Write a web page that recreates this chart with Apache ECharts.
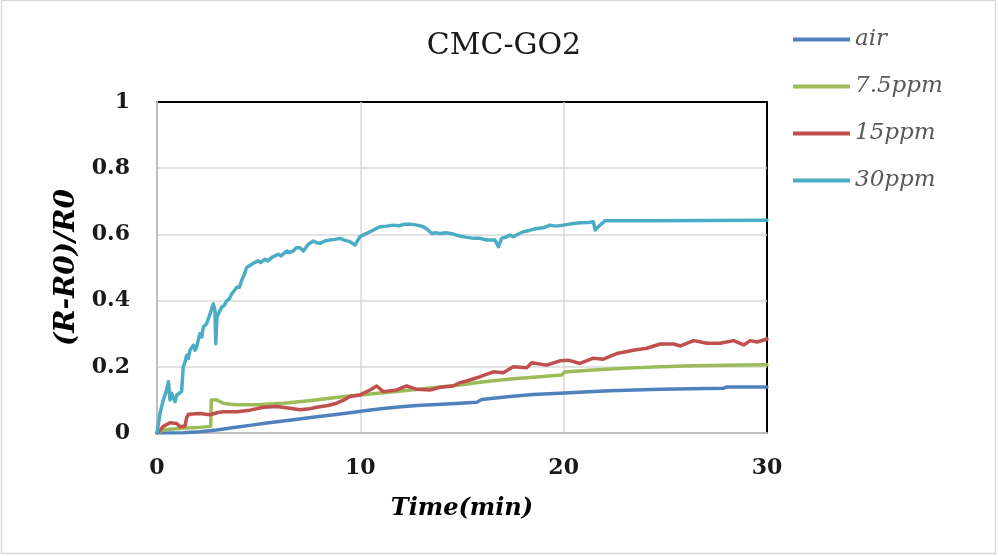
<!DOCTYPE html>
<html>
<head>
<meta charset="utf-8">
<style>
  html, body { margin: 0; padding: 0; background: #ffffff; }
  #chart { width: 998px; height: 556px; }
</style>
<script src="https://cdn.jsdelivr.net/npm/echarts@6/dist/echarts.min.js"></script>
</head>
<body>
<div id="chart"></div>
<script>
// Sensor response (R-R0)/R0 versus time for CMC-GO2 film
var seriesNames = ['air', '7.5ppm', '15ppm', '30ppm'];
var xTicks = [0, 10, 20, 30];
var yTicks = [0, 0.2, 0.4, 0.6, 0.8, 1];

// [time (min), response]
var airData = [
  [0, 0], [1.29, 0.001], [2.1, 0.004], [2.93, 0.009], [3.7, 0.016], [4.57, 0.023],
  [5.4, 0.03], [6.21, 0.036], [7.0, 0.042], [7.85, 0.049], [8.7, 0.055], [9.49, 0.061],
  [10.3, 0.068], [11.13, 0.074], [12, 0.079], [12.77, 0.083], [14, 0.087], [14.9, 0.09],
  [15.72, 0.093], [15.97, 0.101], [17.36, 0.11], [18.5, 0.116], [19.82, 0.12], [21, 0.124],
  [22.28, 0.128], [23.5, 0.13], [24.75, 0.132], [26.3, 0.134], [27.85, 0.135], [28.0, 0.139],
  [30, 0.139]
];

var ppm75Data = [
  [0, 0], [0.31, 0.01], [1.29, 0.014], [2.11, 0.017], [2.64, 0.02], [2.67, 0.1],
  [2.72, 0.105], [2.93, 0.1], [3.26, 0.09], [3.6, 0.087], [3.92, 0.085], [4.9, 0.085],
  [6.21, 0.09], [7.36, 0.097], [8.2, 0.103], [9.0, 0.109], [10, 0.115], [11, 0.121],
  [12, 0.127], [13, 0.133], [14, 0.14], [14.9, 0.145], [15.7, 0.152], [16.54, 0.158],
  [17.4, 0.163], [18.18, 0.167], [19.0, 0.171], [19.9, 0.175], [20.05, 0.184], [21.46, 0.19],
  [23.1, 0.196], [24.75, 0.2], [26.39, 0.203], [28.03, 0.205], [30, 0.206]
];

var ppm15Data = [
  [0, 0], [0.1, 0.005], [0.31, 0.02], [0.64, 0.031], [0.97, 0.029], [1.13, 0.019],
  [1.38, 0.021], [1.45, 0.045], [1.55, 0.057], [1.62, 0.059], [2.11, 0.059], [2.61, 0.055],
  [3.0, 0.062], [3.26, 0.064], [3.92, 0.064], [4.57, 0.069], [5.23, 0.078], [5.89, 0.08],
  [6.54, 0.075], [7.03, 0.07], [7.5, 0.073], [7.85, 0.078], [8.4, 0.083], [8.84, 0.09],
  [9.2, 0.1], [9.49, 0.11], [9.98, 0.115], [10.48, 0.13], [10.8, 0.142], [11.13, 0.125],
  [11.79, 0.13], [12.28, 0.142], [12.77, 0.132], [13.43, 0.13], [13.92, 0.138], [14.57, 0.142],
  [14.9, 0.152], [15.23, 0.157], [15.89, 0.17], [16.54, 0.185], [17.03, 0.182], [17.52, 0.2],
  [18.18, 0.197], [18.43, 0.212], [19.16, 0.205], [19.82, 0.218], [20.23, 0.22], [20.8, 0.21],
  [21.46, 0.226], [21.95, 0.223], [22.61, 0.24], [23.43, 0.25], [24.08, 0.256], [24.75, 0.269],
  [25.41, 0.269], [25.74, 0.263], [26.39, 0.279], [27.05, 0.271], [27.7, 0.271], [28.36, 0.279],
  [28.85, 0.266], [29.18, 0.279], [29.51, 0.275], [30, 0.284]
];

var ppm30Data = [
  [0, 0], [0.05, 0.02], [0.15, 0.06], [0.31, 0.1], [0.45, 0.125], [0.56, 0.155],
  [0.64, 0.1], [0.72, 0.12], [0.8, 0.105], [0.89, 0.095], [0.97, 0.115], [1.05, 0.11],
  [1.21, 0.125], [1.29, 0.2], [1.38, 0.215], [1.46, 0.235], [1.54, 0.225], [1.62, 0.25],
  [1.79, 0.265], [1.87, 0.25], [1.95, 0.26], [2.11, 0.3], [2.2, 0.29], [2.28, 0.32],
  [2.44, 0.33], [2.52, 0.325], [2.61, 0.36], [2.77, 0.39], [2.85, 0.37], [2.89, 0.27],
  [2.95, 0.35], [3.02, 0.36], [3.18, 0.38], [3.3, 0.385], [3.43, 0.4], [3.55, 0.405],
  [3.67, 0.42], [3.8, 0.43], [3.92, 0.44], [4.05, 0.44], [4.16, 0.46], [4.3, 0.48],
  [4.41, 0.5], [4.5, 0.495], [4.66, 0.51], [4.8, 0.515], [4.98, 0.52], [5.1, 0.515],
  [5.31, 0.525], [5.45, 0.52], [5.64, 0.53], [5.8, 0.535], [5.97, 0.54], [6.1, 0.535],
  [6.38, 0.55], [6.5, 0.545], [6.7, 0.55], [6.85, 0.56], [7.03, 0.56], [7.2, 0.55],
  [7.44, 0.57], [7.69, 0.58], [7.85, 0.575], [8.02, 0.573], [8.25, 0.58], [8.5, 0.583],
  [8.75, 0.585], [9.0, 0.588], [9.25, 0.582], [9.49, 0.578], [9.74, 0.568], [9.98, 0.593],
  [10.2, 0.6], [10.48, 0.608], [10.7, 0.615], [10.97, 0.623], [11.3, 0.625], [11.62, 0.628],
  [11.9, 0.626], [12.2, 0.631], [12.44, 0.631], [12.8, 0.628], [13.1, 0.623], [13.3, 0.615],
  [13.51, 0.603], [13.7, 0.605], [13.92, 0.603], [14.2, 0.605], [14.57, 0.601], [14.9, 0.595],
  [15.23, 0.591], [15.6, 0.588], [15.89, 0.588], [16.21, 0.583], [16.62, 0.583], [16.79, 0.563],
  [16.95, 0.588], [17.15, 0.592], [17.36, 0.598], [17.52, 0.593], [17.8, 0.602], [18.02, 0.608],
  [18.3, 0.612], [18.67, 0.618], [19.0, 0.62], [19.33, 0.628], [19.6, 0.625], [19.98, 0.628],
  [20.4, 0.632], [20.8, 0.635], [21.2, 0.636], [21.46, 0.638], [21.55, 0.613], [21.7, 0.623],
  [22.03, 0.641], [24.25, 0.641], [27, 0.642], [30, 0.643]
];

var seriesData = [airData, ppm75Data, ppm15Data, ppm30Data];
var seriesColors = ['#4F81BD', '#9BBB59', '#C0504D', '#4BACC6'];

var serif = 'DejaVu Serif';

var chart = echarts.init(document.getElementById('chart'), null, { renderer: 'canvas' });

chart.setOption({
  animation: false,
  backgroundColor: '#ffffff',
  graphic: [{
    type: 'rect',
    shape: { x: 1.5, y: 0.5, width: 994, height: 553 },
    style: { fill: 'none', stroke: '#d9d9d9', lineWidth: 1.5 },
    silent: true,
    z: -10
  }],
  title: {
    text: 'CMC-GO2',
    left: 499,
    top: 26,
    textAlign: 'center',
    textStyle: { fontFamily: serif, fontSize: 30, fontWeight: 'normal', color: '#1a1a1a' }
  },
  legend: {
    orient: 'vertical',
    left: 788,
    top: 22,
    itemGap: 22,
    itemWidth: 57,
    itemHeight: 4,
    icon: 'rect',
    data: seriesNames,
    textStyle: { fontFamily: serif, fontStyle: 'italic', fontSize: 23, color: '#595959', lineHeight: 25 }
  },
  grid: {
    left: 157,
    right: 231,
    top: 102,
    bottom: 123,
    show: true,
    borderColor: '#000000',
    borderWidth: 2,
    backgroundColor: 'transparent'
  },
  xAxis: {
    type: 'value',
    min: xTicks[0],
    max: xTicks[xTicks.length - 1],
    interval: 10,
    name: 'Time(min)',
    nameLocation: 'middle',
    nameGap: 64,
    nameTextStyle: { fontFamily: serif, fontWeight: 'bold', fontStyle: 'italic', fontSize: 24, color: '#000000' },
    axisLine: { show: true, lineStyle: { color: '#bfbfbf', width: 2 } },
    axisTick: { show: false },
    axisLabel: { margin: 24, fontFamily: serif, fontWeight: 'bold', fontSize: 22, color: '#1a1a1a' },
    splitLine: { show: true, showMinLine: false, showMaxLine: false, lineStyle: { color: '#d9d9d9', width: 1.5 } }
  },
  yAxis: {
    type: 'value',
    min: yTicks[0],
    max: yTicks[yTicks.length - 1],
    interval: 0.2,
    name: '(R-R0)/R0',
    nameLocation: 'middle',
    nameGap: 72,
    nameTextStyle: { fontFamily: serif, fontWeight: 'bold', fontStyle: 'italic', fontSize: 28, color: '#000000' },
    axisLine: { show: true, lineStyle: { color: '#bfbfbf', width: 2 } },
    axisTick: { show: false },
    axisLabel: {
      margin: 27, fontFamily: serif, fontWeight: 'bold', fontSize: 22, color: '#1a1a1a',
      formatter: function (v) { return String(Math.round(v * 10) / 10); }
    },
    splitLine: { show: true, showMinLine: false, showMaxLine: false, lineStyle: { color: '#d9d9d9', width: 1.5 } }
  },
  series: seriesNames.map(function (name, i) {
    return {
      name: name,
      type: 'line',
      data: seriesData[i],
      showSymbol: false,
      symbol: 'none',
      smooth: false,
      color: seriesColors[i],
      lineStyle: { width: 3.5, color: seriesColors[i], join: 'round', cap: 'round' },
      z: 3 + i
    };
  })
});
</script>
</body>
</html>
